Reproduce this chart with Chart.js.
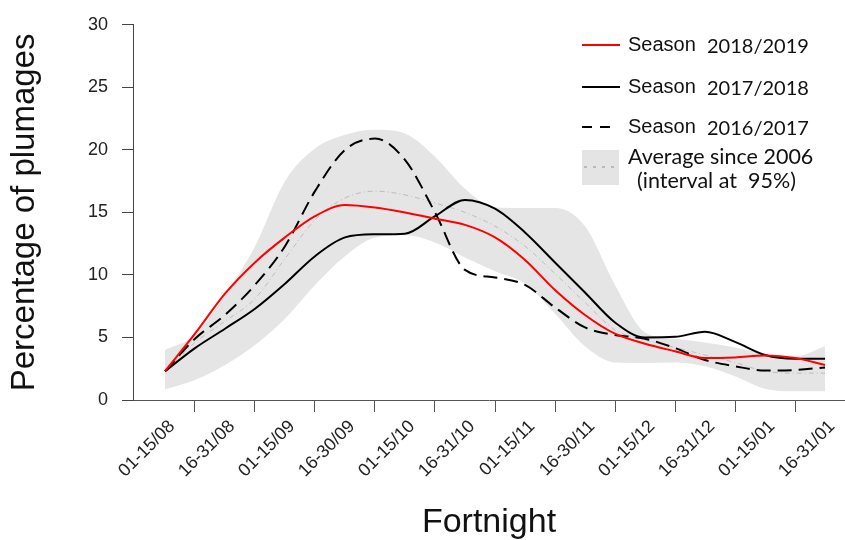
<!DOCTYPE html>
<html>
<head>
<meta charset="utf-8">
<script src="https://cdn.jsdelivr.net/npm/chart.js@4.4.1/dist/chart.umd.min.js"></script>
<style>
    html, body { margin: 0; padding: 0; background: #fff; }
    #wrap { width: 845px; height: 540px; }
</style>
</head>
<body>
<div id="wrap"><canvas id="lineChart" width="845" height="540"></canvas></div>
<script>
// Fortnight names shown under the x axis
const fortnights = ['01-15/08', '16-31/08', '01-15/09', '16-30/09', '01-15/10', '16-31/10',
    '01-15/11', '16-30/11', '01-15/12', '16-31/12', '01-15/01', '16-31/01'];

// Curves read every half fortnight (0 = 01-15/08 ... 11 = 16-31/01)
const steps = [0, 0.5, 1, 1.5, 2, 2.5, 3, 3.5, 4, 4.5, 5, 5.5, 6, 6.5, 7, 7.5, 8, 8.5, 9, 9.5, 10, 10.5, 11];

const season1819 = [2.3, 5.3, 8.5, 11.0, 13.0, 14.7, 15.6, 15.4, 15.0, 14.5, 14.0, 13.0, 11.2, 8.8, 6.8, 5.3, 4.5, 3.9, 3.35, 3.4, 3.55, 3.35, 2.8];
const season1718 = [2.3, 4.15, 5.7, 7.3, 9.3, 11.5, 13.0, 13.25, 13.3, 14.7, 16.0, 15.3, 13.4, 11.0, 8.6, 6.2, 5.0, 5.05, 5.45, 4.65, 3.6, 3.3, 3.3];
const season1617 = [2.3, 4.9, 6.8, 9.2, 12.3, 16.7, 20.0, 20.9, 19.2, 15.0, 10.4, 9.8, 9.2, 7.4, 5.8, 5.2, 4.9, 4.15, 3.2, 2.7, 2.35, 2.4, 2.6];
const average = [2.3, 4.6, 6.3, 8.1, 11.3, 14.4, 16.15, 16.7, 16.4, 15.75, 15.0, 13.9, 12.3, 10.1, 7.8, 5.6, 4.8, 4.2, 3.6, 3.0, 2.3, 2.15, 2.15];
const upper95 = [4.0, 5.2, 8.4, 12.3, 17.5, 20.1, 21.2, 21.6, 21.3, 19.45, 16.9, 15.4, 15.35, 15.35, 13.9, 9.2, 5.4, 4.9, 4.6, 4.2, 3.7, 3.5, 4.3];
const lower95 = [0.85, 1.6, 2.8, 4.4, 6.5, 9.2, 11.5, 13.0, 13.2, 12.6, 11.4, 10.3, 9.3, 6.9, 4.3, 3.0, 2.95, 3.0, 2.7, 1.9, 0.9, 0.7, 0.7];

// y axis ticks and tick marks between the fortnight labels
const yTicks = [0, 5, 10, 15, 20, 25, 30];
const xTickMarks = [0.5, 1.5, 2.5, 3.5, 4.5, 5.5, 6.5, 7.5, 8.5, 9.5, 10.5, 11.5];

function points(values) {
    return values.map((v, i) => ({ x: steps[i], y: v }));
}

// Legend drawn by hand, "Season" in one font and the years in another
const seasonLegend = {
    id: 'seasonLegend',
    afterDraw(chart) {
        const ctx = chart.ctx;
        const rows = [
            { y: 45, ds: chart.data.datasets[0] },
            { y: 87, ds: chart.data.datasets[1] },
            { y: 127, ds: chart.data.datasets[2] }
        ];
        ctx.save();
        ctx.textBaseline = 'middle';
        rows.forEach(row => {
            const dashed = row.ds.borderDash && row.ds.borderDash.length;
            ctx.strokeStyle = row.ds.borderColor;
            ctx.lineWidth = 2;
            ctx.setLineDash(dashed ? [10, 8] : []);
            ctx.beginPath();
            ctx.moveTo(582, row.y);
            ctx.lineTo(dashed ? 612 : 620, row.y);
            ctx.stroke();
            const parts = row.ds.label.split(' ');
            ctx.fillStyle = '#111';
            ctx.font = '20px "Liberation Sans"';
            ctx.fillText(parts[0], 628, row.y);
            ctx.font = '20px Lato';
            ctx.fillText(parts[1], 707, row.y + 2);
        });
        // grey box with dotted mean line
        ctx.setLineDash([]);
        ctx.fillStyle = '#e4e4e4';
        ctx.fillRect(582, 150, 37, 35);
        ctx.strokeStyle = '#aaa';
        ctx.lineWidth = 1.5;
        ctx.setLineDash([3, 6]);
        ctx.beginPath();
        ctx.moveTo(584, 167);
        ctx.lineTo(618, 167);
        ctx.stroke();
        ctx.fillStyle = '#111';
        ctx.font = '21.5px Lato';
        ctx.fillText('Average since 2006', 628, 157);
        ctx.fillText('(interval at  95%)', 637, 181);
        ctx.restore();
    }
};

const ctx1 = document.getElementById('lineChart').getContext('2d');
new Chart(ctx1, {
    type: 'line',
    data: {
        datasets: [{
            label: 'Season 2018/2019',
            data: points(season1819),
            borderColor: '#ff0000',
            borderWidth: 2
        }, {
            label: 'Season 2017/2018',
            data: points(season1718),
            borderColor: '#000000',
            borderWidth: 2
        }, {
            label: 'Season 2016/2017',
            data: points(season1617),
            borderColor: '#000000',
            borderWidth: 2,
            borderDash: [14, 7]
        }, {
            label: 'Average since 2006',
            data: points(average),
            borderColor: '#bdbdbd',
            borderWidth: 1,
            borderDash: [5, 3, 1, 3]
        }, {
            label: 'upper',
            data: points(upper95),
            borderWidth: 0,
            borderColor: 'rgba(0,0,0,0)',
            backgroundColor: '#e5e5e5',
            fill: '+1'
        }, {
            label: 'lower',
            data: points(lower95),
            borderWidth: 0,
            borderColor: 'rgba(0,0,0,0)',
            fill: false
        }]
    },
    options: {
        responsive: false,
        animation: false,
        devicePixelRatio: 1,
        layout: { padding: { top: 20, left: 0, right: 0, bottom: 0 } },
        elements: {
            point: { radius: 0, hoverRadius: 0 },
            line: { cubicInterpolationMode: 'monotone', fill: false }
        },
        plugins: {
            legend: { display: false },
            tooltip: { enabled: false }
        },
        scales: {
            x: {
                type: 'linear',
                bounds: 'data',
                min: -0.533,
                max: 11.333,
                afterBuildTicks: axis => {
                    axis.ticks = xTickMarks.map(v => ({ value: v }));
                },
                afterFit: scale => {
                    scale.height = 140;
                    scale.paddingLeft = 0;
                    scale.paddingRight = 0;
                },
                ticks: {
                    autoSkip: false,
                    minRotation: 45,
                    maxRotation: 45,
                    labelOffset: -23,
                    padding: 4,
                    color: '#222',
                    font: { family: 'Liberation Sans', size: 18 },
                    callback: (value, index) => fortnights[index]
                },
                grid: { drawOnChartArea: false, tickLength: 12, color: '#555' },
                border: { color: '#555', width: 1 },
                title: {
                    display: true,
                    text: 'Fortnight',
                    color: '#111',
                    font: { family: 'Liberation Sans', size: 34 },
                    padding: { top: 0, bottom: -3 }
                }
            },
            y: {
                min: 0,
                max: 30,
                afterBuildTicks: axis => {
                    axis.ticks = yTicks.map(v => ({ value: v }));
                },
                afterFit: scale => { scale.width = 133; },
                ticks: {
                    padding: 14,
                    color: '#222',
                    font: { family: 'Liberation Sans', size: 18 }
                },
                grid: { drawOnChartArea: false, tickLength: 11, color: '#444' },
                border: { color: '#444', width: 1 },
                title: {
                    display: true,
                    text: 'Percentage of plumages',
                    color: '#111',
                    font: { family: 'Liberation Sans', size: 33 },
                    padding: { top: 5, bottom: 0 }
                }
            }
        }
    },
    plugins: [seasonLegend]
});
</script>
</body>
</html>
